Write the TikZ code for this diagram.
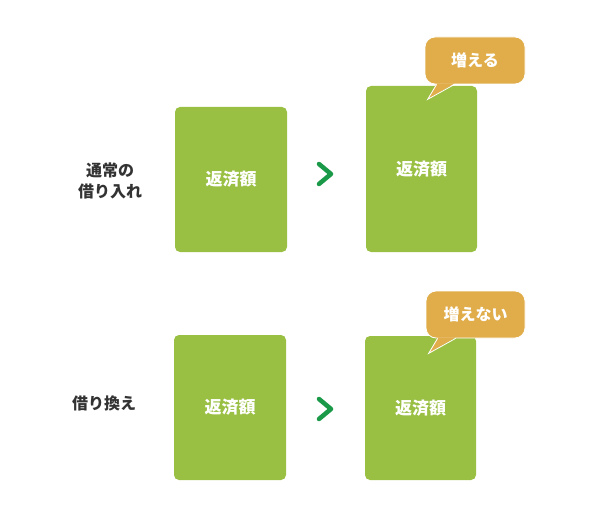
\documentclass[tikz,border=0pt]{standalone}
\usepackage{fontspec}
\setmainfont{Noto Sans CJK JP}
\usepackage{tikz}
\usetikzlibrary{positioning}
\definecolor{leaf}{HTML}{99C043}
\definecolor{honey}{HTML}{E0AD4A}
\definecolor{chev}{HTML}{1A9A48}
\definecolor{inkg}{HTML}{333333}
\tikzset{
  amtbox/.style={rectangle, rounded corners=5pt, fill=leaf, draw=none, inner sep=0pt,
                 text=white, font=\fontsize{17}{20}\selectfont\bfseries, minimum width=112pt},
  bubble/.style={rectangle, rounded corners=10pt, fill=honey, draw=white, line width=0.8pt,
                 text=white, font=\fontsize{16}{19}\selectfont\bfseries, inner sep=0pt,
                 minimum height=47pt},
  tailfill/.style={fill=honey},
  tailedge/.style={draw=white, line width=0.8pt},
  rowlbl/.style={align=center, text=inkg, font=\fontsize{16}{21}\selectfont\bfseries},
  chevron/.style={draw=chev, line width=4.5pt, line cap=round, line join=round},
}
\begin{document}
\begin{tikzpicture}[x=1pt, y=-1pt]
  \useasboundingbox (0,0) rectangle (600,516);
  % row 1
  \node[rowlbl] (lbl1) at (110,181) {通常の\\借り入れ};
  \node[amtbox, minimum height=145pt] (old1) at (231,179.5) {返済額};
  \node[amtbox, minimum height=166pt, minimum width=111pt] (new1) at (421.5,169) {返済額};
  \coordinate (arr1) at (325,174);
  \draw[chevron] ([shift={(-6,-10)}]arr1) -- ([shift={(6,0)}]arr1) -- ([shift={(-6,10)}]arr1);
  \node[bubble, minimum width=100pt] (say1) at (475,60.5) {増える};
  \fill[tailfill] ([shift={(12,-1)}]say1.south west) -- ([shift={(3,15)}]say1.south west)
    -- ([shift={(30,-1)}]say1.south west) -- cycle;
  \draw[tailedge] ([shift={(12,0)}]say1.south west) -- ([shift={(3,15)}]say1.south west)
    -- ([shift={(30,0)}]say1.south west);
  % row 2
  \node[rowlbl] (lbl2) at (104,403) {借り換え};
  \node[amtbox, minimum height=145pt] (old2) at (230,407.5) {返済額};
  \node[amtbox, minimum height=144pt, minimum width=111pt] (new2) at (420.5,408) {返済額};
  \coordinate (arr2) at (325,409);
  \draw[chevron] ([shift={(-6,-10)}]arr2) -- ([shift={(6,0)}]arr2) -- ([shift={(-6,10)}]arr2);
  \node[bubble, minimum width=99pt] (say2) at (475.5,314.5) {増えない};
  \fill[tailfill] ([shift={(12,-1)}]say2.south west) -- ([shift={(3,15)}]say2.south west)
    -- ([shift={(30,-1)}]say2.south west) -- cycle;
  \draw[tailedge] ([shift={(12,0)}]say2.south west) -- ([shift={(3,15)}]say2.south west)
    -- ([shift={(30,0)}]say2.south west);
\end{tikzpicture}
\end{document}
